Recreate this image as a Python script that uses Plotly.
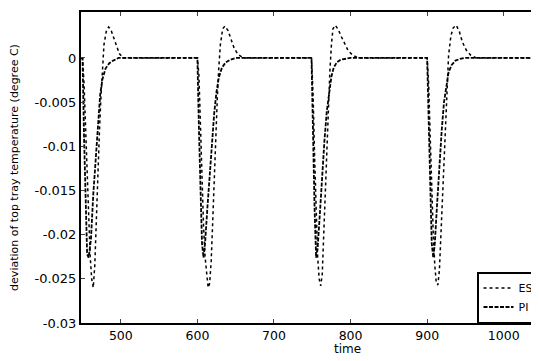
import plotly.graph_objects as go

# ---- data ----
esc_time = [448, 450, 452, 454, 456, 458, 460, 462, 464, 466, 468, 470, 472, 474, 476, 478, 481, 484, 487, 490, 494, 498, 503,
            600, 602, 604, 606, 608, 610, 612, 614, 616, 618, 620, 622, 624, 626, 628, 630, 633, 636, 640, 644, 648, 653, 660,
            749, 751, 753, 755, 757, 759, 761, 763, 765, 767, 769, 771, 773, 775, 777, 780, 784, 788, 792, 797, 803, 810,
            900, 902, 904, 906, 908, 910, 912, 914, 916, 918, 920, 922, 924, 926, 928, 931, 934, 938, 942, 946, 951, 957, 964,
            1060]
esc_dev = [0, 0, -0.003, -0.008, -0.014, -0.019, -0.0225, -0.025, -0.026, -0.0235, -0.0175, -0.0122, -0.0085, -0.0045, -0.001, 0.0015, 0.003, 0.0035, 0.0032, 0.0024, 0.0014, 0.0005, 0,
           0, -0.002, -0.008, -0.014, -0.019, -0.0225, -0.0248, -0.026, -0.0255, -0.023, -0.0185, -0.0135, -0.0085, -0.0045, -0.001, 0.0015, 0.0033, 0.0036, 0.0031, 0.0021, 0.0011, 0.0004, 0,
           0, -0.004, -0.011, -0.018, -0.0225, -0.025, -0.0258, -0.0245, -0.02, -0.0145, -0.0095, -0.0055, -0.0015, 0.0015, 0.0033, 0.0037, 0.0032, 0.0024, 0.0016, 0.0008, 0.0003, 0,
           0, -0.003, -0.009, -0.015, -0.02, -0.0235, -0.0255, -0.0257, -0.024, -0.02, -0.0155, -0.011, -0.0065, -0.003, 0.0003, 0.0025, 0.0034, 0.0037, 0.003, 0.0018, 0.0009, 0.0003, 0,
           0]

pi_time = [448, 450, 452, 454, 456, 458, 461, 464, 467, 470, 473, 476, 480, 485, 490, 497,
           600, 602, 604, 606, 608, 610, 613, 616, 619, 622, 625, 628, 632, 637, 643, 650,
           749, 751, 753, 755, 757, 760, 763, 766, 769, 772, 775, 778, 782, 787, 793, 800,
           900, 902, 904, 906, 908, 910, 913, 916, 919, 922, 925, 928, 932, 937, 943, 950,
           1060]
pi_dev = [0, 0, -0.009, -0.017, -0.0222, -0.0226, -0.0205, -0.0155, -0.0115, -0.0072, -0.0042, -0.0024, -0.0012, -0.0006, -0.0003, 0,
          0, -0.008, -0.016, -0.021, -0.0226, -0.021, -0.017, -0.013, -0.0095, -0.0062, -0.0038, -0.0022, -0.0011, -0.0005, -0.0002, 0,
          0, -0.009, -0.017, -0.0226, -0.0215, -0.0175, -0.013, -0.0092, -0.006, -0.0037, -0.0021, -0.0011, -0.0005, -0.0002, -0.0001, 0,
          0, -0.008, -0.016, -0.021, -0.0226, -0.021, -0.0165, -0.012, -0.0082, -0.005, -0.003, -0.0016, -0.0008, -0.0003, -0.0001, 0,
          0]

x_ticks = [500, 600, 700, 800, 900, 1000]
y_ticks = [0, -0.005, -0.01, -0.015, -0.02, -0.025, -0.03]
y_tick_text = ["0", "-0.005", "-0.01", "-0.015", "-0.02", "-0.025", "-0.03"]

FONT = "DejaVu Sans"

fig = go.Figure()
fig.add_trace(go.Scatter(x=esc_time, y=esc_dev, mode="lines", name="ESC",
                         line=dict(color="black", width=1.5, dash="dot")))
fig.add_trace(go.Scatter(x=pi_time, y=pi_dev, mode="lines", name="PI",
                         line=dict(color="black", width=1.8, dash="4px,1.5px")))

# the page body has an 8 px default margin, so margins are offset by it
fig.update_layout(
    width=539, height=361,
    margin=dict(l=73, r=0, t=4, b=46),
    paper_bgcolor="white", plot_bgcolor="white",
    font=dict(family=FONT, size=12, color="black"),
    showlegend=True,
    legend=dict(x=1, xanchor="right", y=0, yanchor="bottom",
                bgcolor="white", bordercolor="black", borderwidth=1.5,
                font=dict(family=FONT, size=11, color="black"),
                itemwidth=30, tracegroupgap=0),
    xaxis=dict(range=[448, 1056.5], tickvals=x_ticks, ticks="inside", ticklen=4,
               showline=True, linecolor="black", linewidth=2, mirror="ticks",
               showgrid=False, zeroline=False, tickfont=dict(size=12.5),
               automargin=False),
    yaxis=dict(range=[-0.03, 0.0052], tickvals=y_ticks, ticktext=y_tick_text,
               ticks="inside", ticklen=4, showline=True, linecolor="black",
               linewidth=2, mirror=False, showgrid=False, zeroline=False,
               tickfont=dict(size=13), automargin=False,
               title=dict(text="deviation of top tray temperature (degree C)",
                          font=dict(size=11), standoff=24)),
    annotations=[dict(text="time", x=796, y=-0.083, xref="x", yref="paper",
                      showarrow=False, font=dict(size=12), yanchor="middle")],
)

fig.write_html("out.html")
